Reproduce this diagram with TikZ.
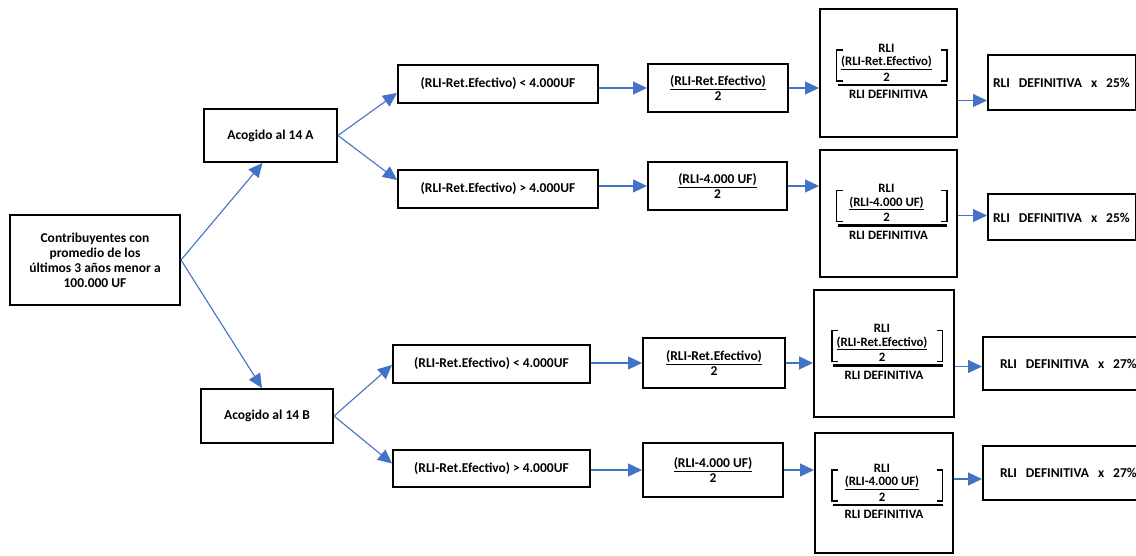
\documentclass[tikz,border=0pt]{standalone}
\usepackage{fontspec}
\setmainfont{Carlito}
\usetikzlibrary{arrows.meta,calc}
\definecolor{arrowblue}{HTML}{4472C4}
\newcommand{\BigFrac}[2]{%
  \node[bigtxt] (#1r) at ($(#1.center)+(-2,-25)$) {RLI};
  \node[bigtxt] (#1f) at ($(#1.center)+(-2,-10)$) {\underline{#2}};
  \node[bigtxt] (#1t) at ($(#1.center)+(-2,4)$) {2};
  \draw[brk] ($(#1.center)+(-46,-23)$) -- ++(-6,0) -- ++(0,31) -- ++(6,0);
  \draw[brk] ($(#1.center)+(52.5,-23)$) -- ++(6,0) -- ++(0,31) -- ++(-6,0);
  \draw[fracline] ($(#1.center)+(-51,12)$) -- ($(#1.center)+(58.5,12)$);
  \node[bigtxt] (#1d) at ($(#1.center)+(0,21.5)$) {RLI DEFINITIVA};
}
\begin{document}
\begin{tikzpicture}[x=1pt,y=-1pt,
  box/.style={draw=black, line width=2pt, fill=white, inner sep=0pt, align=center,
              font=\fontsize{13.5}{15}\selectfont\bfseries},
  bigbox/.style={draw=black, line width=2pt, fill=white, inner sep=0pt},
  bigtxt/.style={inner sep=0pt, font=\fontsize{12.8}{14}\selectfont\bfseries},
  result/.style={box, align=left, text width=138pt},
  brk/.style={draw=black, line width=1.3pt},
  fracline/.style={draw=black, line width=2.4pt},
  arr/.style={draw=arrowblue, line width=1.1pt, -{Triangle[length=14pt,width=13pt]}}]
\useasboundingbox (0,0) rectangle (1136,556);
\fill[white] (0,0) rectangle (1136,556);

% left nodes
\node[box, minimum width=170pt, minimum height=90pt] (s) at (95,260)
  {Contribuyentes con\\promedio de los\\últimos 3 años menor a\\100.000 UF};
\node[box, minimum width=133pt, minimum height=53pt] (a) at (270.5,135.5) {Acogido al 14 A};
\node[box, minimum width=132pt, minimum height=54pt] (b) at (267,416) {Acogido al 14 B};

% conditions
\node[box, minimum width=200pt, minimum height=38pt] (c1) at (498,84) {(RLI-Ret.Efectivo) < 4.000UF};
\node[box, minimum width=200pt, minimum height=38pt] (c2) at (498,189) {(RLI-Ret.Efectivo) > 4.000UF};
\node[box, minimum width=197pt, minimum height=38pt] (c3) at (491.5,364) {(RLI-Ret.Efectivo) < 4.000UF};
\node[box, minimum width=197pt, minimum height=37pt] (c4) at (491.5,468.5) {(RLI-Ret.Efectivo) > 4.000UF};

% fractions
\node[box, minimum width=140pt, minimum height=48pt] (f1) at (718,88) {\underline{(RLI-Ret.Efectivo)}\\2};
\node[box, minimum width=139pt, minimum height=48pt] (f2) at (717.5,186) {\underline{(RLI-4.000 UF)}\\2};
\node[box, minimum width=142pt, minimum height=50pt] (f3) at (714,363) {\underline{(RLI-Ret.Efectivo)}\\2};
\node[box, minimum width=140pt, minimum height=54pt] (f4) at (713,470) {\underline{(RLI-4.000 UF)}\\2};

% big boxes
\node[bigbox, minimum width=137pt, minimum height=128pt] (g1) at (888.5,73) {};
\node[bigbox, minimum width=137pt, minimum height=127pt] (g2) at (888.5,213.5) {};
\node[bigbox, minimum width=140pt, minimum height=127pt] (g3) at (884,353.5) {};
\node[bigbox, minimum width=138pt, minimum height=120pt] (g4) at (884,493) {};
\BigFrac{g1}{(RLI-Ret.Efectivo)}
\BigFrac{g2}{(RLI-4.000 UF)}
\BigFrac{g3}{(RLI-Ret.Efectivo)}
\BigFrac{g4}{(RLI-4.000 UF)}

% results
\node[result, inner xsep=5pt, minimum height=55pt] (r1) at (1062,82.5) {\mbox{RLI\ \ DEFINITIVA\ \ x\ \ 25\%}};
\node[result, inner xsep=5pt, minimum height=46pt] (r2) at (1062,217.5) {\mbox{RLI\ \ DEFINITIVA\ \ x\ \ 25\%}};
\node[result, inner xsep=17pt, minimum height=53pt] (r3) at (1069,363.5) {\mbox{RLI\ \ DEFINITIVA\ \ x\ \ 27\%}};
\node[result, inner xsep=17pt, minimum height=54pt] (r4) at (1069,473) {\mbox{RLI\ \ DEFINITIVA\ \ x\ \ 27\%}};

% arrow end points on the result boxes
\coordinate (r1in) at ($(r1.west)+(0,18)$);
\coordinate (r2in) at ($(r2.west)+(0,-2)$);
\coordinate (r3in) at ($(r3.west)+(0,3)$);
\coordinate (r4in) at ($(r4.west)+(0,6)$);

% connectors
\draw[arr] (s.east) -- ($(a.south)+(-8,0)$);
\draw[arr] (s.east) -- ($(b.north)+(-5,0)$);
\draw[arr] (a.east) -- ($(c1.west)+(0,9)$);
\draw[arr] (a.east) -- ($(c2.west)+(0,-9)$);
\draw[arr] (b.east) -- ($(c3.west)+(0,1)$);
\draw[arr] (b.east) -- ($(c4.west)+(0,-5)$);
\draw[arr] (f1.west -| c1.east) -- (f1.west);
\draw[arr] (f2.west -| c2.east) -- (f2.west);
\draw[arr] (f3.west -| c3.east) -- (f3.west);
\draw[arr] (f4.west -| c4.east) -- (f4.west);
\draw[arr] (f1.east) -- (f1.east -| g1.west);
\draw[arr] (f2.east) -- (f2.east -| g2.west);
\draw[arr] (f3.east) -- (f3.east -| g3.west);
\draw[arr] (f4.east) -- (f4.east -| g4.west);
\draw[arr] (r1in -| g1.east) -- (r1in);
\draw[arr] (r2in -| g2.east) -- (r2in);
\draw[arr] (r3in -| g3.east) -- (r3in);
\draw[arr] (r4in -| g4.east) -- (r4in);
\end{tikzpicture}
\end{document}
